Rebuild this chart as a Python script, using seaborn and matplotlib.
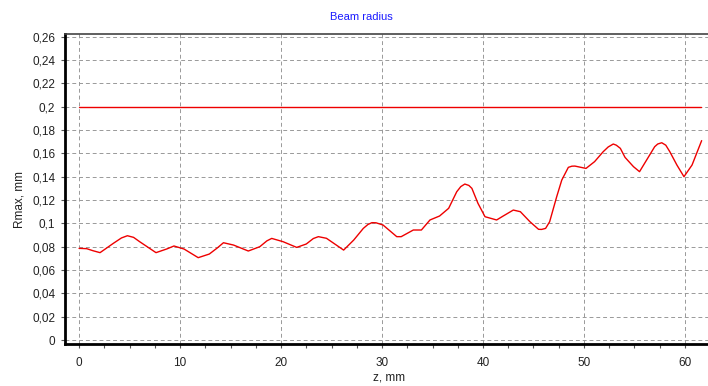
import matplotlib
matplotlib.use("Agg")
import matplotlib.pyplot as plt
import seaborn as sns
import pandas as pd
import numpy as np
from matplotlib.ticker import MultipleLocator, FixedLocator

# beam radius along z
z_mm = [0.0, 0.76, 1.4, 2.08, 3.4, 4.2, 4.79, 5.4, 6.0, 7.62, 8.7, 9.4, 10.4, 11.8,
        12.9, 13.7, 14.3, 15.3, 16.76, 17.9, 18.6, 19.08, 20.2, 21.55, 22.5, 23.2,
        23.7, 24.5, 26.2, 27.2, 28.15, 28.6, 29.0, 29.4, 30.1, 31.46, 31.9, 33.1,
        33.9, 34.75, 35.7, 36.6, 37.4, 37.8, 38.2, 38.6, 38.9, 39.5, 40.2, 41.35,
        42.0, 43.0, 43.7, 44.65, 45.5, 45.8, 46.2, 46.6, 47.3, 47.8, 48.45, 48.8,
        49.1, 50.2, 51.05, 51.9, 52.4, 52.9, 53.2, 53.6, 54.06, 54.9, 55.5, 56.3,
        57.0, 57.3, 57.7, 58.1, 58.5, 59.2, 59.9, 60.7, 61.65]
r_max = [0.0786, 0.0783, 0.0765, 0.0749, 0.0829, 0.0875, 0.0894, 0.0880, 0.0843,
         0.0749, 0.0781, 0.0806, 0.0780, 0.0706, 0.0737, 0.0790, 0.0834, 0.0814,
         0.0763, 0.0800, 0.0850, 0.0871, 0.0843, 0.0794, 0.0823, 0.0870, 0.0886,
         0.0872, 0.0771, 0.0857, 0.0957, 0.0990, 0.1006, 0.1005, 0.0986, 0.0886,
         0.0886, 0.0943, 0.0943, 0.1029, 0.1063, 0.1129, 0.1271, 0.1315, 0.1337,
         0.1325, 0.1300, 0.1172, 0.1057, 0.1029, 0.1063, 0.1114, 0.1100, 0.1014,
         0.0949, 0.0948, 0.0957, 0.1014, 0.1229, 0.1371, 0.1480, 0.1490, 0.1491,
         0.1471, 0.1529, 0.1614, 0.1655, 0.1680, 0.1670, 0.1643, 0.1566, 0.1486,
         0.1443, 0.1557, 0.1657, 0.1680, 0.1691, 0.1670, 0.1614, 0.1500, 0.1400,
         0.1500, 0.1709]

# aperture limit line
limit_z = [0.0, 61.6]
limit_r = [0.2, 0.2]

y_ticks = [0, 0.02, 0.04, 0.06, 0.08, 0.1, 0.12, 0.14, 0.16, 0.18, 0.2, 0.22, 0.24, 0.26]
y_labels = ["0", "0,02", "0,04", "0,06", "0,08", "0,1", "0,12", "0,14", "0,16",
            "0,18", "0,2", "0,22", "0,24", "0,26"]
x_ticks = [0, 10, 20, 30, 40, 50, 60]

sns.set_theme(style="white")
plt.rcParams['font.family'] = ['Liberation Sans', 'DejaVu Sans']

fig = plt.figure(figsize=(7.08, 3.86), dpi=100)
ax = fig.add_axes([65 / 708, 42 / 386, 643 / 708, 310 / 386])

df = pd.DataFrame({"z": z_mm, "r": r_max})
lim = pd.DataFrame({"z": limit_z, "r": limit_r})
sns.lineplot(data=lim, x="z", y="r", color="#ee0000", linewidth=1.0, ax=ax)
sns.lineplot(data=df, x="z", y="r", color="#ee0000", linewidth=1.0, ax=ax)

ax.set_xlim(-1.39, 62.28)
ax.set_ylim(-0.0034, 0.2623)
ax.yaxis.set_major_locator(FixedLocator(y_ticks))
ax.set_yticklabels(y_labels)
ax.xaxis.set_major_locator(FixedLocator(x_ticks))
ax.xaxis.set_minor_locator(MultipleLocator(2.5))

ax.grid(True, which="major", color="#999999", linewidth=0.7, linestyle=(0, (4, 3)))
ax.set_axisbelow(True)

ax.tick_params(axis="both", which="major", direction="out", length=3, width=0.8,
               color="#555555", labelsize=8.5, labelcolor="#222222", bottom=True, left=True)
ax.tick_params(axis="x", which="minor", direction="out", length=3, width=0.8,
               color="#555555", bottom=True)
ax.tick_params(axis="x", which="major", pad=6)
ax.tick_params(axis="y", which="major", pad=4)

for side in ["left", "bottom"]:
    ax.spines[side].set_color("black")
    ax.spines[side].set_linewidth(2.0)
ax.spines["top"].set_color("#444444")
ax.spines["top"].set_linewidth(1.2)
ax.spines["right"].set_visible(False)

ax.set_xlabel("")
ax.set_ylabel("")
fig.text(389 / 708, 1 - 378 / 386, "z, mm", ha="center", va="center", fontsize=8.5, color="#222222")
fig.text(20 / 708, 1 - 200 / 386, "Rmax, mm", ha="center", va="center", rotation=90,
         fontsize=8.5, color="#222222")
fig.text(361 / 708, 1 - 17 / 386, "Beam radius", ha="center", va="center", fontsize=8,
         color="#1a1aff")

plt.savefig("out.png", dpi=100)
plt.close()
